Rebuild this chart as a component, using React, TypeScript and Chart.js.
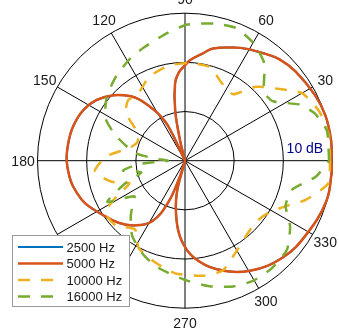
import React, { useEffect, useRef } from 'react';
import { Chart, registerables } from 'chart.js';

Chart.register(...registerables);

// radial axis (dB)
const rMin = -20;
const rMax = 10;
const ringValues = [-10, 0, 10];
const rangeLabel = '10 dB';

// angular axis (degrees)
const spokeAngles = [0, 30, 60, 90, 120, 150, 180, 210, 240, 270, 300, 330];
const angleLabels = ['0', '30', '60', '90', '120', '150', '180', '210', '240', '270', '300', '330'];

// series
const seriesLabels = ['2500 Hz', '5000 Hz', '10000 Hz', '16000 Hz'];
const seriesColors = ['#0072BD', '#D95319', '#EDB120', '#77AC30'];

const angles2500 = [0, 8, 18, 27, 39, 47, 53, 61, 67, 76, 81, 87, 90, 94, 97.3, 101, 103.6, 105.5, 114, 116, 120, 123, 126.5, 130, 137.5, 145.5, 153.5, 163, 171, 180, 190, 196, 203, 213, 223, 232, 241.5, 248, 252, 253, 254, 256, 262, 267.6, 275, 286, 300.6, 315.5, 329, 344, 355, 360];
const db2500 = [9.8, 10, 10, 9.6, 8.9, 8.2, 7.2, 6.0, 5.0, 3.5, 2.0, 0.5, -0.6, -2.0, -4.1, -9.5, -15.7, -20, -20, -12, -8.8, -6.9, -4.6, -2.9, -0.3, 1.8, 3.1, 3.8, 4.0, 4.06, 3.6, 3.0, 2.1, 0.1, -1.5, -3.3, -6, -10.8, -16.6, -20, -20, -13, -7.7, -3.7, -0.3, 2.9, 6.0, 8.0, 8.9, 9.9, 9.9, 9.8];

const angles5000 = [0, 8, 18, 27, 39, 47, 53, 61, 67, 76, 81, 87, 90, 94, 97.3, 101, 103.6, 105.5, 114, 116, 120, 123, 126.5, 130, 137.5, 145.5, 153.5, 163, 171, 180, 190, 196, 203, 213, 223, 232, 241.5, 248, 252, 253, 254, 256, 262, 267.6, 275, 286, 300.6, 315.5, 329, 344, 355, 360];
const db5000 = [9.8, 10, 10, 9.6, 8.9, 8.2, 7.2, 6.0, 5.0, 3.5, 2.0, 0.5, -0.6, -2.0, -4.1, -9.5, -15.7, -20, -20, -12, -8.8, -6.9, -4.6, -2.9, -0.3, 1.8, 3.1, 3.8, 4.0, 4.06, 3.6, 3.0, 2.1, 0.1, -1.5, -3.3, -6, -10.8, -16.6, -20, -20, -13, -7.7, -3.7, -0.3, 2.9, 6.0, 8.0, 8.9, 9.9, 9.9, 9.8];

const angles10000 = [0, 10, 20, 30, 37, 46, 54, 60, 66, 75, 88, 100, 113, 120, 127, 133, 141, 150, 159, 167, 177, 187, 196, 202, 207, 213, 223, 234, 242, 254, 265, 279, 289, 300, 311, 320, 328, 336, 342, 351, 360];
const db10000 = [9.5, 9.7, 9.1, 7.5, 4.2, 0.9, -3.3, -3.1, -2.3, -0.3, -0.1, -0.4, -1.4, -2.7, -3.5, -3.1, -4.5, -9, -9.6, -8.4, -3.9, -1.5, -4.5, -7.8, -4.7, -0.7, -0.7, -2.7, 0.1, 1.6, 3.0, 3.7, 3.6, 1.1, -0.5, -0.9, 0.0, 2.6, 5.8, 9.5, 9.5];

const angles16000 = [0, 5, 12, 20, 26, 34, 40, 43, 51, 60, 69, 78, 89, 98, 110, 118, 129, 141, 152, 160, 171, 176, 180, 184, 189, 195, 201, 208, 215, 221, 226, 235, 245, 254, 261, 271, 281, 291, 300, 309, 319, 328, 336, 345, 353, 360];
const db16000 = [9.3, 9.3, 9.5, 8.1, 6.0, 1.6, 1.2, 1.9, 5.6, 7.7, 8.9, 8.5, 7.7, 6.2, 4.5, 3.6, 2.2, 0.5, -1.7, -5, -9.6, -13.9, -16.5, -10.8, -7.2, -10.8, -6.8, -2.1, -7.4, -5.8, -4.1, -1.3, 0.7, 2.2, 3.0, 4.4, 6.0, 7.4, 8.1, 8.1, 7.5, 5.2, 2.4, 2.6, 6.8, 9.3];

const span = rMax - rMin;

function toXY(angles: number[], dbs: number[]) {
  return angles.map((a, i) => {
    const u = Math.max(dbs[i], rMin) - rMin;
    const t = (a * Math.PI) / 180;
    return { x: u * Math.cos(t), y: u * Math.sin(t) };
  });
}

const FONT = '"Liberation Sans", Arial, Helvetica, sans-serif';

const polarGrid = {
  id: 'polarGrid',
  beforeDatasetsDraw(chart: any) {
    const xs = chart.scales.x;
    const ys = chart.scales.y;
    const ctx = chart.ctx;
    const cx = xs.getPixelForValue(0);
    const cy = ys.getPixelForValue(0);
    const px = (u: number) => xs.getPixelForValue(u) - cx;
    ctx.save();
    ctx.strokeStyle = '#000';
    ctx.lineWidth = 1;
    ringValues.forEach((v) => {
      ctx.beginPath();
      ctx.arc(cx, cy, px(v - rMin), 0, Math.PI * 2);
      ctx.stroke();
    });
    const R = px(span);
    spokeAngles.forEach((a) => {
      const t = (a * Math.PI) / 180;
      ctx.beginPath();
      ctx.moveTo(cx, cy);
      ctx.lineTo(cx + R * Math.cos(t), cy - R * Math.sin(t));
      ctx.stroke();
    });
    ctx.fillStyle = '#1a1a1a';
    ctx.font = `14px ${FONT}`;
    ctx.textAlign = 'center';
    ctx.textBaseline = 'middle';
    const LR = px(span * 1.098);
    spokeAngles.forEach((a, i) => {
      const t = (a * Math.PI) / 180;
      ctx.fillText(angleLabels[i], cx + LR * Math.cos(t), cy - LR * Math.sin(t) + 1);
    });
    ctx.fillStyle = '#00008B';
    ctx.textAlign = 'right';
    ctx.fillText(rangeLabel, xs.getPixelForValue(span * 0.937), ys.getPixelForValue(span * 0.087) + 1);
    ctx.restore();
  },
};

const boxLegend = {
  id: 'boxLegend',
  afterDraw(chart: any) {
    const ctx = chart.ctx;
    const x0 = 12.5, y0 = 235.5, w = 117, h = 71;
    ctx.save();
    ctx.fillStyle = '#fff';
    ctx.fillRect(x0, y0, w, h);
    ctx.strokeStyle = '#999';
    ctx.lineWidth = 1;
    ctx.strokeRect(x0, y0, w, h);
    ctx.font = `13px ${FONT}`;
    ctx.textAlign = 'left';
    ctx.textBaseline = 'middle';
    chart.data.datasets.forEach((ds: any, i: number) => {
      const y = 247 + i * 16.5;
      ctx.strokeStyle = ds.borderColor;
      ctx.lineWidth = ds.borderWidth;
      ctx.setLineDash(ds.borderDash || []);
      ctx.beginPath();
      ctx.moveTo(18, y);
      ctx.lineTo(63, y);
      ctx.stroke();
      ctx.setLineDash([]);
      ctx.fillStyle = '#1a1a1a';
      ctx.fillText(ds.label, 66.5, y + 1);
    });
    ctx.restore();
  },
};

export default function App() {
  const ref = useRef<HTMLCanvasElement>(null);
  useEffect(() => {
    if (!ref.current) return;
    const all = [
      [angles2500, db2500],
      [angles5000, db5000],
      [angles10000, db10000],
      [angles16000, db16000],
    ];
    const dashes = [[], [], [12, 11], [12, 11]];
    const orders = [4, 3, 2, 1];
    const tensions = [0.4, 0.4, 0.2, 0.2];
    const chart = new Chart(ref.current, {
      type: 'scatter',
      data: {
        datasets: all.map((s, i) => ({
          label: seriesLabels[i],
          data: toXY(s[0] as number[], s[1] as number[]),
          showLine: true,
          borderColor: seriesColors[i],
          backgroundColor: seriesColors[i],
          borderWidth: i === 0 ? 2 : 2.5,
          borderDash: dashes[i],
          borderJoinStyle: 'round',
          pointRadius: 0,
          tension: tensions[i],
          clip: false,
          order: orders[i],
        })),
      } as any,
      options: {
        animation: false,
        responsive: false,
        maintainAspectRatio: false,
        layout: { padding: { left: 37.5, right: 6.5, top: 13.2, bottom: 23.8 } },
        scales: {
          x: { type: 'linear', min: -span, max: span, display: false },
          y: { type: 'linear', min: -span, max: span, display: false },
        },
        plugins: { legend: { display: false }, tooltip: { enabled: false } },
        events: [],
      } as any,
      plugins: [polarGrid, boxLegend],
    });
    return () => chart.destroy();
  }, []);
  return (
    <div style={{ position: 'fixed', left: 0, top: 0, width: 339, height: 332, background: '#fff' }}>
      <canvas ref={ref} width={339} height={332} style={{ display: 'block' }} />
    </div>
  );
}
